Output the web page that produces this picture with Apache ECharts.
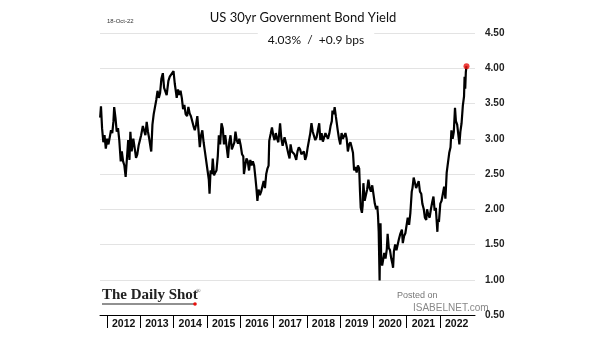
<!DOCTYPE html>
<html><head><meta charset="utf-8">
<script src="https://cdn.jsdelivr.net/npm/echarts@6/dist/echarts.min.js"></script>
<style>html,body{margin:0;padding:0;background:#fff}#c{width:605px;height:341px}</style>
</head><body><div id="c"></div>
<script>
const dates = ["2011-10-18","2011-10-27","2011-11-08","2011-11-22","2011-12-05","2011-12-19","2012-01-03","2012-01-17","2012-01-31","2012-02-14","2012-02-28","2012-03-12","2012-03-20","2012-04-03","2012-04-17","2012-05-01","2012-05-15","2012-05-31","2012-06-12","2012-06-26","2012-07-10","2012-07-24","2012-08-07","2012-08-21","2012-09-04","2012-09-14","2012-09-28","2012-10-16","2012-10-30","2012-11-15","2012-11-29","2012-12-13","2012-12-27","2013-01-10","2013-01-29","2013-02-12","2013-02-26","2013-03-12","2013-03-26","2013-04-09","2013-04-23","2013-05-01","2013-05-14","2013-05-28","2013-06-11","2013-06-25","2013-07-09","2013-07-23","2013-08-06","2013-08-20","2013-09-05","2013-09-19","2013-10-03","2013-10-17","2013-11-05","2013-11-20","2013-12-05","2013-12-31","2014-01-14","2014-01-28","2014-02-04","2014-02-18","2014-03-04","2014-03-18","2014-04-01","2014-04-15","2014-04-29","2014-05-13","2014-05-29","2014-06-12","2014-06-26","2014-07-10","2014-07-24","2014-08-07","2014-08-21","2014-09-04","2014-09-18","2014-10-02","2014-10-15","2014-10-29","2014-11-12","2014-11-26","2014-12-10","2014-12-23","2015-01-08","2015-01-22","2015-01-30","2015-02-10","2015-02-24","2015-03-06","2015-03-20","2015-04-02","2015-04-16","2015-04-30","2015-05-12","2015-05-26","2015-06-10","2015-06-24","2015-07-07","2015-07-21","2015-08-04","2015-08-20","2015-09-03","2015-09-17","2015-10-01","2015-10-15","2015-10-29","2015-11-10","2015-11-24","2015-12-08","2015-12-22","2016-01-07","2016-01-21","2016-02-04","2016-02-11","2016-02-25","2016-03-10","2016-03-24","2016-04-07","2016-04-21","2016-05-05","2016-05-19","2016-06-02","2016-06-16","2016-06-27","2016-07-08","2016-07-21","2016-08-04","2016-08-18","2016-09-01","2016-09-15","2016-09-29","2016-10-13","2016-10-27","2016-11-08","2016-11-15","2016-12-01","2016-12-15","2016-12-29","2017-01-12","2017-01-26","2017-02-09","2017-02-23","2017-03-14","2017-03-28","2017-04-11","2017-04-18","2017-05-02","2017-05-16","2017-05-31","2017-06-14","2017-06-26","2017-07-07","2017-07-21","2017-08-04","2017-08-18","2017-09-07","2017-09-21","2017-10-05","2017-10-19","2017-11-02","2017-11-16","2017-11-30","2017-12-14","2017-12-28","2018-01-11","2018-01-25","2018-02-08","2018-02-21","2018-03-07","2018-03-21","2018-04-04","2018-04-18","2018-05-02","2018-05-17","2018-05-29","2018-06-12","2018-06-26","2018-07-10","2018-07-24","2018-08-07","2018-08-21","2018-09-04","2018-09-18","2018-10-02","2018-10-09","2018-10-23","2018-11-02","2018-11-15","2018-11-29","2018-12-06","2018-12-20","2019-01-03","2019-01-17","2019-01-31","2019-02-14","2019-02-28","2019-03-14","2019-03-27","2019-04-10","2019-04-24","2019-05-08","2019-05-22","2019-06-03","2019-06-17","2019-07-01","2019-07-15","2019-07-29","2019-08-07","2019-08-15","2019-08-28","2019-09-05","2019-09-13","2019-09-27","2019-10-10","2019-10-24","2019-11-07","2019-11-21","2019-12-05","2019-12-19","2020-01-02","2020-01-16","2020-01-31","2020-02-12","2020-02-20","2020-02-28","2020-03-09","2020-03-13","2020-03-19","2020-03-27","2020-04-06","2020-04-16","2020-04-29","2020-05-13","2020-05-27","2020-06-05","2020-06-18","2020-07-01","2020-07-15","2020-07-29","2020-08-04","2020-08-13","2020-08-27","2020-09-10","2020-09-24","2020-10-08","2020-10-22","2020-11-09","2020-11-19","2020-12-03","2020-12-17","2020-12-31","2021-01-12","2021-01-27","2021-02-10","2021-02-25","2021-03-05","2021-03-18","2021-03-31","2021-04-14","2021-04-28","2021-05-12","2021-05-26","2021-06-09","2021-06-21","2021-07-07","2021-07-19","2021-08-03","2021-08-12","2021-08-26","2021-09-09","2021-09-23","2021-10-07","2021-10-21","2021-11-03","2021-11-16","2021-12-03","2021-12-09","2021-12-20","2022-01-04","2022-01-18","2022-02-02","2022-02-15","2022-03-01","2022-03-15","2022-03-29","2022-04-12","2022-04-26","2022-05-06","2022-05-19","2022-06-01","2022-06-14","2022-06-24","2022-07-08","2022-07-21","2022-08-01","2022-08-12","2022-08-25","2022-09-08","2022-09-21","2022-09-27","2022-10-04","2022-10-11","2022-10-18"];
const yields = [3.30,3.46,3.15,2.95,3.05,2.86,3.00,2.92,2.94,3.12,3.08,3.25,3.45,3.30,3.10,3.15,2.98,2.68,2.82,2.68,2.62,2.46,2.72,2.98,2.70,3.10,2.82,3.00,2.88,2.73,2.78,2.90,2.90,3.05,3.18,3.20,3.05,3.24,3.10,3.00,2.88,2.82,3.20,3.35,3.35,3.55,3.68,3.58,3.65,3.85,3.93,3.72,3.70,3.62,3.82,3.88,3.90,3.96,3.78,3.65,3.58,3.70,3.62,3.68,3.58,3.42,3.48,3.35,3.32,3.45,3.36,3.32,3.30,3.18,3.12,3.20,3.32,3.10,2.88,3.05,3.12,2.95,2.82,2.82,2.55,2.42,2.22,2.55,2.50,2.72,2.48,2.52,2.55,2.75,3.05,2.92,3.22,3.15,2.92,3.05,2.90,2.73,2.95,3.05,2.85,2.85,2.95,3.10,2.98,2.93,3.00,2.90,2.78,2.75,2.50,2.62,2.72,2.68,2.55,2.70,2.62,2.68,2.62,2.45,2.30,2.12,2.28,2.20,2.25,2.25,2.40,2.30,2.50,2.58,2.62,2.97,3.07,3.16,3.05,2.98,3.08,3.00,2.95,3.22,3.00,2.90,2.88,3.02,2.95,2.86,2.78,2.72,2.92,2.82,2.80,2.78,2.70,2.82,2.88,2.85,2.78,2.80,2.82,2.70,2.76,2.88,2.88,3.08,3.22,3.10,3.08,2.98,3.02,3.12,3.22,2.98,3.08,2.96,2.95,3.08,3.08,3.00,3.07,3.18,3.25,3.40,3.35,3.45,3.32,3.30,3.12,3.00,2.92,3.08,3.00,3.00,3.08,3.00,2.82,2.92,2.95,2.88,2.80,2.55,2.60,2.52,2.62,2.58,2.25,2.02,1.95,2.05,2.37,2.12,2.20,2.28,2.42,2.30,2.25,2.34,2.35,2.08,2.00,2.05,1.92,1.68,0.99,1.45,1.80,1.28,1.20,1.18,1.38,1.30,1.43,1.65,1.45,1.42,1.30,1.22,1.17,1.40,1.50,1.42,1.40,1.58,1.65,1.71,1.52,1.62,1.66,1.64,1.88,1.78,1.95,2.25,2.30,2.45,2.38,2.30,2.30,2.40,2.25,2.22,2.08,2.00,1.88,1.85,2.00,1.92,1.88,2.00,2.10,2.18,1.98,2.02,1.68,1.85,1.82,2.08,2.12,2.12,2.32,2.15,2.52,2.50,2.80,2.88,3.12,3.00,3.10,3.44,3.25,3.20,3.05,2.92,3.10,3.22,3.47,3.60,3.88,3.71,3.95,4.03];
const yearTicks = [2012,2013,2014,2015,2016,2017,2018,2019,2020,2021,2022];
const yearLabelPos = yearTicks.map(y => y + 0.5);

function toYear(s){
  const d = Date.parse(s + 'T00:00:00Z');
  const y = new Date(d).getUTCFullYear();
  const a = Date.UTC(y,0,1), b = Date.UTC(y+1,0,1);
  return y + (d - a) / (b - a);
}
const seriesData = dates.map((d,i) => [toYear(d), yields[i]]);
const last = seriesData[seriesData.length - 1];

const chart = echarts.init(document.getElementById('c'), null, {renderer:'canvas'});
chart.setOption({
  animation: false,
  backgroundColor: '#fff',
  title: [
    {text: 'US 30yr Government Bond Yield', left: 298, textAlign: 'center', top: 6,
     textStyle: {fontFamily: 'Lato', fontSize: 13, fontWeight: 'normal', color: '#111'}},
    {text: '4.03%  /  +0.9 bps', left: 306, textAlign: 'center', top: 32, backgroundColor: '#fff',
     padding: [2, 10, 2, 10],
     textStyle: {fontFamily: 'Lato', fontSize: 12, fontWeight: 'normal', color: '#111'}},
    {text: '18-Oct-22', left: 102, top: 13,
     textStyle: {fontFamily: 'Liberation Sans', fontSize: 6, fontWeight: 'normal', color: '#333'}}
  ],
  grid: {left: 100, right: 130, top: 33, bottom: 26, containLabel: false},
  xAxis: {
    type: 'value', min: 2011.79, max: 2023.05,
    axisLine: {show: true, lineStyle: {color: '#000', width: 1}},
    axisTick: {show: true, customValues: yearTicks, length: 13, lineStyle: {color: '#000', width: 1}},
    axisLabel: {customValues: yearLabelPos, formatter: v => String(Math.floor(v)),
      fontFamily: 'Liberation Sans', fontWeight: 'bold', fontSize: 10.5, color: '#111', margin: 4},
    splitLine: {show: false}
  },
  yAxis: {
    type: 'value', position: 'right', min: 0.5, max: 4.5, interval: 0.5,
    axisLine: {show: false}, axisTick: {show: false},
    axisLabel: {formatter: v => v.toFixed(2), fontFamily: 'Liberation Sans', fontWeight: 'bold',
      fontSize: 10, color: '#222', margin: 10},
    splitLine: {show: true, lineStyle: {color: '#e3e3e3', width: 1}}
  },
  series: [
    {type: 'line', data: seriesData, showSymbol: false, symbol: 'none',
     lineStyle: {color: '#000', width: 2.2}, z: 3},
    {type: 'scatter', data: [last], symbolSize: 6, itemStyle: {color: '#e8100c'}, z: 5}
  ],
  graphic: [
    {type: 'text', left: 102, top: 288, style: {text: 'The Daily Shot', fontFamily: 'Liberation Serif',
      fontWeight: 'bold', fontSize: 15, fill: '#222'}},
    {type: 'text', left: 196, top: 288, style: {text: '®', fontFamily: 'Liberation Serif', fontSize: 6, fill: '#222'}},
    {type: 'line', shape: {x1: 102, y1: 304, x2: 194, y2: 304}, style: {stroke: '#222', lineWidth: 1}},
    {type: 'circle', shape: {cx: 195, cy: 304, r: 1.8}, style: {fill: '#e8100c'}},
    {type: 'text', left: 397, top: 291, style: {text: 'Posted on', fontFamily: 'Liberation Sans', fontSize: 9, fill: '#777'}},
    {type: 'text', left: 413, top: 303, style: {text: 'ISABELNET.com', fontFamily: 'Liberation Sans', fontSize: 10, fill: '#888'}}
  ]
});
</script></body></html>
